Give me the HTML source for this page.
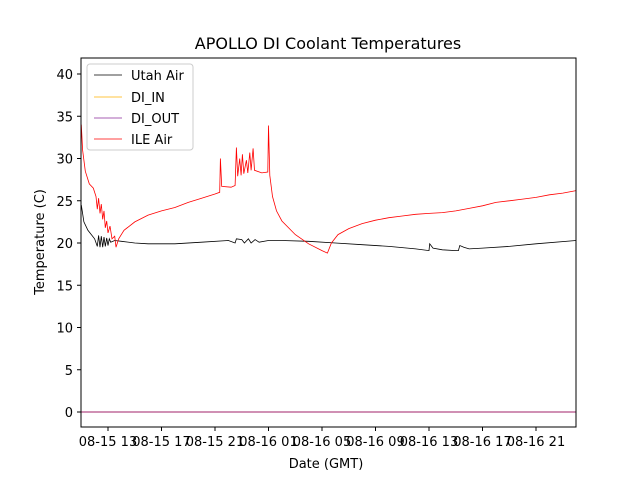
<!DOCTYPE html>
<html><head><meta charset="utf-8"><style>
body{margin:0;background:#fff}
text{font-family:"DejaVu Sans","Liberation Sans",sans-serif}
</style></head><body>
<svg id="c" width="640" height="480" xmlns="http://www.w3.org/2000/svg">
<rect width="640" height="480" fill="#fff"/>
<text x="328" y="49" font-size="16" text-anchor="middle">APOLLO DI Coolant Temperatures</text>
<g id="plot"></g>
<rect x="81" y="58" width="495" height="369" fill="none" stroke="#000" stroke-width="1"/>
<g id="axes"></g>
<text x="326" y="468" font-size="13" text-anchor="middle">Date (GMT)</text>
<text transform="translate(44,242) rotate(-90)" font-size="13" text-anchor="middle">Temperature (C)</text>
<g>
<rect x="87" y="64" width="106" height="86" rx="3" fill="#fff" fill-opacity="0.8" stroke="#ccc"/>
<g><line x1="94" y1="75" x2="122" y2="75" stroke="#000" stroke-width="0.8"/><text x="131" y="80" font-size="13">Utah Air</text></g>
<g><line x1="94" y1="97" x2="122" y2="97" stroke="#ffb000" stroke-width="0.8"/><text x="131" y="102" font-size="13">DI_IN</text></g>
<g><line x1="94" y1="118" x2="122" y2="118" stroke="#8a2a9a" stroke-width="0.8"/><text x="131" y="123" font-size="13">DI_OUT</text></g>
<g><line x1="94" y1="139" x2="122" y2="139" stroke="#ff0000" stroke-width="0.8"/><text x="131" y="144" font-size="13">ILE Air</text></g>
</g>
</svg>
<script>
const yTicks=[0,5,10,15,20,25,30,35,40];
const xTickHours=[0,4,8,12,16,20,24,28,32];
const xTickLabels=["08-15 13","08-15 17","08-15 21","08-16 01","08-16 05","08-16 09","08-16 13","08-16 17","08-16 21"];
const ileT=[-2,-1.9,-1.7,-1.4,-1.1,-0.9,-0.8,-0.7,-0.6,-0.5,-0.4,-0.3,-0.2,-0.1,0,0.15,0.3,0.5,0.6,0.8,1.2,2,3,4,5,6,7,8,8.35,8.4,8.5,9.2,9.5,9.6,9.7,9.85,9.95,10.05,10.15,10.35,10.45,10.6,10.7,10.85,10.95,11.5,11.95,12.0,12.1,12.3,12.6,13,14,15,16,16.4,16.7,17.2,18,19,20,21,22,23,24,25,26,27,28,29,30,31,32,33,34,35];
const ileV=[34,31,28.5,27,26.5,25.5,24,25.3,23.5,24.6,22.8,23.8,21.8,22.6,21.2,22,20.5,20.8,19.5,20.5,21.5,22.5,23.3,23.8,24.2,24.8,25.3,25.8,26,30,26.7,26.6,26.8,31.3,27.9,30,28,30.5,28.2,29.8,28.3,30.7,28.6,31.2,28.6,28.3,28.4,33.9,28,25.5,23.8,22.6,21,19.9,19.1,18.8,20,21,21.7,22.3,22.7,23,23.2,23.4,23.5,23.6,23.8,24.1,24.4,24.8,25,25.2,25.4,25.7,25.9,26.2];
const utahT=[-2,-1.8,-1.5,-1.0,-0.8,-0.7,-0.6,-0.5,-0.4,-0.3,-0.2,-0.1,0,0.1,0.2,0.5,1,2,3,5,7,9,9.5,9.6,10,10.2,10.5,10.7,11,11.3,12,13,15,17,19,21,23,24,24.05,24.3,25,26,26.2,26.3,26.6,27,28,30,32,35];
const utahV=[24.5,22.5,21.5,20.5,19.6,20.9,19.5,20.8,19.5,20.7,19.6,20.6,19.7,20.5,20.1,20.3,20.2,20,19.9,19.9,20.1,20.3,20.0,20.5,20.4,20.0,20.5,20.0,20.4,20.1,20.3,20.3,20.2,20,19.8,19.6,19.3,19.1,19.9,19.4,19.2,19.1,19.1,19.7,19.5,19.3,19.4,19.6,19.9,20.3];
const diInT=[-2,35], diInV=[0,0];
const diOutT=[-2,35], diOutV=[0,0];
const X=t=>108+13.375*t, Y=v=>412-8.45*v;
const NS="http://www.w3.org/2000/svg";
const plot=document.getElementById('plot'), axes=document.getElementById('axes');
function line(ts,vs,color,name,w){
  const p=document.createElementNS(NS,'polyline');
  p.setAttribute('points',ts.map((t,i)=>X(t).toFixed(1)+','+Y(vs[i]).toFixed(1)).join(' '));
  p.setAttribute('fill','none');p.setAttribute('stroke',color);p.setAttribute('stroke-width',w);
  
  
  plot.appendChild(p);
}
line(diInT,diInV,'#ffb000','series-di-in','0.8');
line(diOutT,diOutV,'#a0206a','series-di-out','1');
line(utahT,utahV,'#000','series-utah-air','0.8');
line(ileT,ileV,'#ff0000','series-ile-air','0.8');
yTicks.forEach(v=>{
  const l=document.createElementNS(NS,'line');
  l.setAttribute('x1',77);l.setAttribute('x2',81);l.setAttribute('y1',Y(v));l.setAttribute('y2',Y(v));l.setAttribute('stroke','#000');
  
  
  axes.appendChild(l);
  const t=document.createElementNS(NS,'text');
  t.setAttribute('x',73);t.setAttribute('y',Y(v)+5);t.setAttribute('font-size','13');t.setAttribute('text-anchor','end');
  t.textContent=v;
  
  
  axes.appendChild(t);
});
xTickHours.forEach((h,i)=>{
  const l=document.createElementNS(NS,'line');
  l.setAttribute('x1',X(h));l.setAttribute('x2',X(h));l.setAttribute('y1',427);l.setAttribute('y2',431);l.setAttribute('stroke','#000');
  
  
  axes.appendChild(l);
  const t=document.createElementNS(NS,'text');
  t.setAttribute('x',X(h));t.setAttribute('y',446);t.setAttribute('font-size','13');t.setAttribute('text-anchor','middle');
  t.textContent=xTickLabels[i];
  
  
  axes.appendChild(t);
});
</script>
</body></html>
